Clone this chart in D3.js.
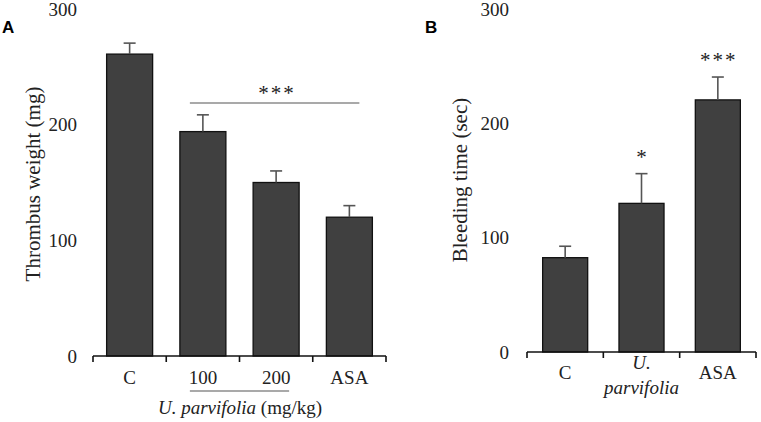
<!DOCTYPE html>
<html><head><meta charset="utf-8">
<script src="https://cdn.jsdelivr.net/npm/d3@7"></script>
<style>body{margin:0;background:#fff}svg{display:block}
svg text{font-family:"Liberation Serif","Times New Roman",Times,serif}
svg text.letter{font-family:"Liberation Sans",Arial,sans-serif}</style>
</head><body>
<svg id="c" width="761" height="422"></svg>
<script>
const catsA = ["C", "100", "200", "ASA"];
const valsA = [261, 194, 150, 120];
const errA = [9.5, 14.5, 10, 10];
const catsB = ["C", "U. parvifolia", "ASA"];
const valsB = [82.5, 130, 220.5];
const errB = [10, 26, 20];
const yTicks = [0, 100, 200, 300];

const svg = d3.select("#c");
const barFill = "#404040";

function panel(o) {
  const g = svg.append("g");
  const x = d3.scaleBand().domain(o.cats).range(o.xr).paddingInner(o.pad).paddingOuter(o.pad / 2);
  const y = d3.scaleLinear().domain([0, 300]).range(o.yr);
  const half = x.step() * o.pad / 2;
  g.selectAll("rect.bar").data(o.cats).join("rect")
    .attr("x", d => x(d)).attr("width", x.bandwidth())
    .attr("y", (d, i) => y(o.vals[i])).attr("height", (d, i) => y(0) - y(o.vals[i]))
    .attr("fill", barFill).attr("stroke", "#111").attr("stroke-width", 1.3);
  const eb = g.selectAll("g.err").data(o.cats).join("g");
  eb.append("line").attr("x1", d => x(d) + x.bandwidth() / 2).attr("x2", d => x(d) + x.bandwidth() / 2)
    .attr("y1", (d, i) => y(o.vals[i])).attr("y2", (d, i) => y(o.vals[i] + o.errs[i]))
    .attr("stroke", "#555").attr("stroke-width", 1.6);
  eb.append("line").attr("x1", d => x(d) + x.bandwidth() / 2 - 6).attr("x2", d => x(d) + x.bandwidth() / 2 + 6)
    .attr("y1", (d, i) => y(o.vals[i] + o.errs[i])).attr("y2", (d, i) => y(o.vals[i] + o.errs[i]))
    .attr("stroke", "#555").attr("stroke-width", 1.6);
  g.append("line").attr("x1", o.xr[0]).attr("x2", o.xr[1]).attr("y1", y(0)).attr("y2", y(0))
    .attr("stroke", "#111").attr("stroke-width", 1.6);
  const bounds = o.cats.map(d => x(d) - half).concat([x(o.cats[o.cats.length - 1]) + x.bandwidth() + half]);
  g.selectAll("line.tk").data(bounds).join("line")
    .attr("x1", d => d).attr("x2", d => d).attr("y1", y(0)).attr("y2", y(0) + 6)
    .attr("stroke", "#111").attr("stroke-width", 1.6);
  g.selectAll("text.yt").data(yTicks).join("text")
    .attr("x", o.ylabX).attr("y", d => y(d)).attr("dy", "0.35em")
    .attr("text-anchor", "end").attr("font-size", 19)
    .attr("fill", "#222").text(d => d);
  g.append("text").attr("transform", `translate(${o.titleX},${o.titleY}) rotate(-90)`)
    .attr("text-anchor", "middle").attr("dy", "0.35em")
    .attr("font-size", 21).attr("fill", "#222").text(o.title);
  g.append("text").attr("class", "letter").attr("x", o.letterX).attr("y", 33)
    .attr("font-weight", "bold").attr("font-size", 17).attr("fill", "#000").text(o.letter);
  return {g, x, y};
}

// Panel A
const A = panel({cats: catsA, vals: valsA, errs: errA, xr: [93, 386], yr: [356, 9], pad: 0.372,
  ylabX: 77, titleX: 33, titleY: 184, title: "Thrombus weight (mg)", letter: "A", letterX: 2});
A.g.selectAll("text.xl").data(catsA).join("text")
  .attr("x", d => A.x(d) + A.x.bandwidth() / 2).attr("y", 384)
  .attr("text-anchor", "middle").attr("font-size", 19).attr("fill", "#222").text(d => d);
A.g.append("line").attr("x1", A.x("100") + A.x.bandwidth() / 2 - 13).attr("x2", A.x("200") + A.x.bandwidth() / 2 + 13)
  .attr("y1", 391).attr("y2", 391).attr("stroke", "#555").attr("stroke-width", 1.2);
const xt = A.g.append("text").attr("x", 240).attr("y", 414).attr("text-anchor", "middle")
  .attr("font-size", 19).attr("fill", "#222");
xt.append("tspan").attr("font-style", "italic").text("U. parvifolia");
xt.append("tspan").text(" (mg/kg)");
A.g.append("line").attr("x1", A.x("100") + 10).attr("x2", A.x("ASA") + A.x.bandwidth() - 13)
  .attr("y1", 103).attr("y2", 103).attr("stroke", "#555").attr("stroke-width", 1.2);
A.g.append("text").attr("x", 277).attr("y", 100).attr("text-anchor", "middle")
  .attr("font-size", 21).attr("letter-spacing", 2).attr("fill", "#222").text("***");

// Panel B
const B = panel({cats: catsB, vals: valsB, errs: errB, xr: [527, 756], yr: [352, 9], pad: 0.41,
  ylabX: 509, titleX: 460, titleY: 180, title: "Bleeding time (sec)", letter: "B", letterX: 425});
const xb = B.g.selectAll("text.xl").data(catsB).join("text")
  .attr("x", d => B.x(d) + B.x.bandwidth() / 2)
  .attr("text-anchor", "middle").attr("font-size", 19).attr("fill", "#222");
xb.each(function(d) {
  const t = d3.select(this);
  if (d.startsWith("U.")) {
    const parts = d.split(" ");
    t.attr("font-style", "italic");
    t.append("tspan").attr("x", B.x(d) + B.x.bandwidth() / 2).attr("y", 369).text(parts[0]);
    t.append("tspan").attr("x", B.x(d) + B.x.bandwidth() / 2).attr("y", 394).text(parts[1]);
  } else {
    t.attr("y", 379).text(d);
  }
});
const starsB = ["", "*", "***"];
B.g.selectAll("text.st").data(catsB).join("text")
  .attr("x", d => B.x(d) + B.x.bandwidth() / 2 + 1)
  .attr("y", (d, i) => B.y(valsB[i] + errB[i]) - 10)
  .attr("text-anchor", "middle").attr("font-size", 21).attr("letter-spacing", 2).attr("fill", "#222")
  .text((d, i) => starsB[i]);
</script>
</body></html>
